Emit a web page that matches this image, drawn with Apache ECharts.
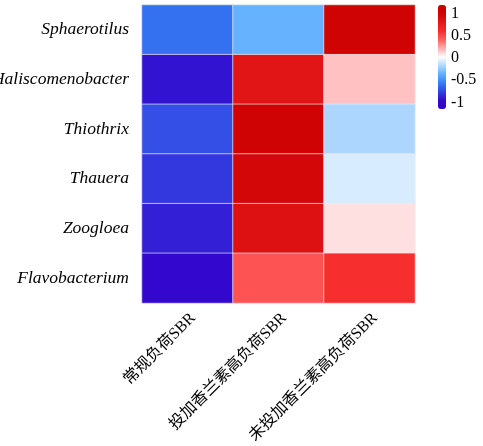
<!DOCTYPE html>
<html>
<head>
<meta charset="utf-8">
<script src="https://cdn.jsdelivr.net/npm/echarts@6/dist/echarts.min.js"></script>
<style>html,body{margin:0;padding:0;background:#fff;}#c{width:483px;height:446px;}</style>
</head>
<body>
<div id="c"></div>
<script>
var conditions = ['常规负荷SBR', '投加香兰素高负荷SBR', '未投加香兰素高负荷SBR'];
var genera = ['Sphaerotilus', 'Haliscomenobacter', 'Thiothrix', 'Thauera', 'Zoogloea', 'Flavobacterium'];
var valuesNormal = [-0.63, -0.94, -0.74, -0.82, -0.90, -1.00];
var valuesVanillin = [-0.375, 0.80, 1.00, 0.94, 0.84, 0.436];
var valuesNoVanillin = [1.00, 0.15, -0.20, -0.095, 0.076, 0.57];
var legendTicks = [-1, -0.5, 0, 0.5, 1];

var cols = [valuesNormal, valuesVanillin, valuesNoVanillin];
var data = [];
for (var c = 0; c < cols.length; c++) {
  for (var r = 0; r < genera.length; r++) {
    data.push([c, r, cols[c][r]]);
  }
}
var serif = '"Liberation Serif", "Noto Sans CJK SC", serif';
var chart = echarts.init(document.getElementById('c'), null, {renderer: 'canvas'});
chart.setOption({
  backgroundColor: '#ffffff',
  animation: false,
  grid: [
    {left: 142, top: 5, width: 273, height: 298, containLabel: false, outerBoundsMode: 'none'},
    {left: 446, top: 6, width: 1, height: 104, containLabel: false, outerBoundsMode: 'none'}
  ],
  xAxis: [
    {type: 'category', data: conditions, gridIndex: 0,
     axisLine: {show: false}, axisTick: {show: false}, splitLine: {show: false},
     axisLabel: {rotate: 45, fontSize: 16, color: '#000', fontFamily: serif, margin: 7, interval: 0,
                 align: 'right', verticalAlign: 'top'}},
    {type: 'value', gridIndex: 1, show: false, min: 0, max: 1}
  ],
  yAxis: [
    {type: 'category', data: genera, inverse: true, gridIndex: 0,
     axisLine: {show: false}, axisTick: {show: false}, splitLine: {show: false},
     axisLabel: {fontSize: 17.5, color: '#000', fontFamily: serif, fontStyle: 'italic', margin: 13, interval: 0}},
    {type: 'value', gridIndex: 1, min: -1.17, max: 1.17, position: 'right',
     axisLine: {show: false}, axisTick: {show: false}, splitLine: {show: false},
     axisLabel: {customValues: legendTicks, fontSize: 16, color: '#000', fontFamily: serif, margin: 4}}
  ],
  visualMap: {
    type: 'continuous', min: -1.17, max: 1.17, calculable: false,
    seriesIndex: 0, dimension: 2,
    orient: 'vertical', right: 37, top: 5, padding: 0,
    itemWidth: 8, itemHeight: 104, text: null, showLabel: false,
    inRange: {color: ['#3300CC', '#3308CE', '#3343E2', '#337FF6', '#60AFFF', '#AFD7FF', '#FFFFFF',
                      '#FFAFAF', '#FF6060', '#F62A2A', '#E31717', '#CF0303', '#CC0000']}
  },
  series: [{
    type: 'heatmap', xAxisIndex: 0, yAxisIndex: 0, data: data,
    itemStyle: {borderColor: 'rgba(235,235,235,0.7)', borderWidth: 1},
    emphasis: {disabled: true},
    label: {show: false}
  }]
});
</script>
</body>
</html>
